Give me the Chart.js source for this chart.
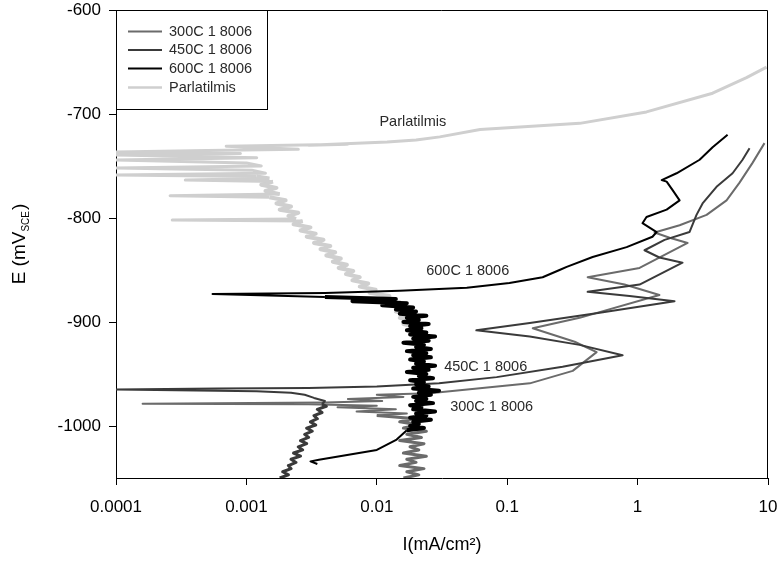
<!DOCTYPE html>
<html>
<head>
<meta charset="utf-8">
<title>Polarization curves</title>
<script src="https://cdn.jsdelivr.net/npm/chart.js@4.4.1/dist/chart.umd.min.js"></script>
<style>
  html, body { margin: 0; padding: 0; background: #fff; }
</style>
</head>
<body>
<canvas id="tafel" width="779" height="562"></canvas>
<script>
  // Potentiodynamic curves: I (mA/cm2, log axis) against E (mV vs SCE)
  const xTicks = [0.0001, 0.001, 0.01, 0.1, 1, 10];
  const yTicks = [-1000, -900, -800, -700, -600];

  const seriesNames = ['300C 1 8006', '450C 1 8006', '600C 1 8006', 'Parlatilmis'];
  const seriesColors = ['#6b6b6b', '#3a3a3a', '#000000', '#cfcfcf'];

  // each point is [I, E]
  const pts300 = [
    [0.016, -1050], [0.021, -1047], [0.017, -1044], [0.023, -1041], [0.015, -1038],
    [0.020, -1035], [0.017, -1032], [0.024, -1029], [0.016, -1026], [0.021, -1023],
    [0.018, -1020], [0.023, -1017], [0.015, -1014], [0.022, -1011], [0.017, -1008],
    [0.024, -1005], [0.016, -1002], [0.021, -999], [0.015, -996], [0.020, -993],
    [0.010, -990], [0.017, -988], [0.007, -986], [0.014, -984], [0.005, -982],
    [0.010, -980.5], [0.003, -979], [0.00016, -978.5], [0.004, -977.5], [0.011, -976],
    [0.006, -974], [0.016, -972], [0.010, -970], [0.0255, -968.5],
    [0.149, -959], [0.318, -947], [0.485, -929], [0.329, -919], [0.157, -906],
    [0.359, -896], [1.47, -874], [0.794, -864], [0.414, -857], [1.035, -848],
    [2.42, -824], [1.76, -819], [1.35, -814], [2.10, -807], [3.38, -797],
    [4.81, -783], [6.05, -766], [7.61, -747], [9.40, -728]
  ];

  const pts450 = [
    [0.0018, -1050], [0.0021, -1047], [0.0019, -1044], [0.0022, -1041], [0.0021, -1038],
    [0.0024, -1035], [0.0022, -1032], [0.0026, -1029], [0.0023, -1026], [0.0027, -1023],
    [0.0025, -1020], [0.0029, -1017], [0.0026, -1014], [0.0030, -1011], [0.0028, -1008],
    [0.0032, -1005], [0.0029, -1002], [0.0034, -999], [0.0031, -996], [0.0035, -993],
    [0.0033, -990], [0.0038, -987], [0.0035, -984], [0.0041, -981], [0.0038, -979],
    [0.0040, -976], [0.0033, -973], [0.0028, -970], [0.0022, -968], [0.0012, -966.5],
    [0.0001, -965], [0.0006, -964], [0.0030, -963.5], [0.010, -962], [0.030, -959],
    [0.083, -953], [0.266, -943], [0.767, -932], [0.359, -922], [0.149, -914],
    [0.058, -908], [0.149, -901], [0.512, -891], [1.92, -880], [0.868, -875],
    [0.414, -871], [1.035, -864], [2.21, -843], [1.47, -838], [1.13, -831],
    [1.61, -821], [2.50, -813.5], [2.83, -797], [3.15, -786], [4.03, -770],
    [5.35, -757], [6.38, -744], [7.22, -733]
  ];

  const pts600 = [
    [0.0035, -1036.5], [0.0031, -1034], [0.0036, -1032.5], [0.0100, -1023], [0.0142, -1013],
    [0.017, -1004], [0.023, -1002], [0.018, -1000], [0.021, -998], [0.019, -996],
    [0.026, -994], [0.018, -992], [0.024, -990], [0.020, -988], [0.028, -986],
    [0.019, -984], [0.022, -982], [0.018, -980], [0.027, -978], [0.020, -976],
    [0.024, -974], [0.019, -972], [0.026, -970], [0.021, -968], [0.030, -966],
    [0.019, -964], [0.025, -962], [0.020, -960], [0.023, -958], [0.018, -956],
    [0.027, -954], [0.021, -952], [0.024, -950], [0.017, -948], [0.025, -946],
    [0.019, -944], [0.028, -942], [0.020, -940], [0.023, -938], [0.018, -936],
    [0.026, -934], [0.019, -932], [0.024, -930], [0.017, -928], [0.026, -926],
    [0.020, -924], [0.023, -922], [0.016, -920], [0.025, -918], [0.019, -916],
    [0.028, -914], [0.018, -912], [0.024, -910], [0.017, -908], [0.022, -906],
    [0.018, -904], [0.025, -902], [0.016, -900], [0.021, -898], [0.017, -896],
    [0.024, -894], [0.015, -892], [0.020, -890], [0.014, -888], [0.019, -886],
    [0.011, -884], [0.017, -882], [0.0065, -880], [0.014, -878], [0.004, -876],
    [0.0015, -874.5], [0.00055, -873], [0.004, -872], [0.015, -870],
    [0.049, -867], [0.104, -862.5], [0.187, -857], [0.252, -850], [0.286, -847],
    [0.452, -837.5], [0.824, -828], [1.30, -818], [1.40, -813.5], [1.09, -805],
    [1.17, -799], [1.67, -792], [2.10, -783], [1.85, -773], [1.67, -765],
    [1.53, -763.5], [1.99, -757], [2.99, -744], [3.76, -732], [4.90, -720]
  ];

  const ptsPol = [
    [0.020, -905], [0.016, -902], [0.019, -899], [0.015, -896], [0.018, -893],
    [0.014, -890], [0.017, -887], [0.013, -884], [0.015, -881], [0.011, -878],
    [0.0125, -875], [0.0088, -872], [0.0098, -869], [0.0074, -866], [0.0086, -863],
    [0.0065, -860], [0.0074, -857], [0.0058, -854], [0.0066, -851], [0.0051, -848],
    [0.0059, -845], [0.0046, -842], [0.0053, -839], [0.0041, -836], [0.0048, -833],
    [0.0037, -830], [0.0044, -827], [0.0033, -824], [0.0039, -821], [0.0029, -818],
    [0.0034, -815], [0.0026, -812], [0.0031, -809], [0.0023, -806], [0.0027, -803],
    [0.00027, -802], [0.0024, -801], [0.0021, -798], [0.0025, -795], [0.0018, -792],
    [0.0022, -789], [0.0017, -786], [0.0020, -783], [0.0015, -780], [0.00026, -778.5],
    [0.0018, -777], [0.0014, -774], [0.0017, -771], [0.0013, -768], [0.0016, -765],
    [0.00034, -763.5], [0.0015, -762], [0.0012, -760], [0.0001, -758.7], [0.0014, -757],
    [0.0011, -754], [0.0001, -752], [0.0013, -750], [0.0010, -747], [0.0001, -744.2],
    [0.0012, -742], [0.0001, -739.4], [0.0009, -738], [0.0001, -736.5], [0.0005, -735],
    [0.0025, -734], [0.0007, -731], [0.006, -729], [0.003, -730], [0.012, -727],
    [0.020, -725], [0.0304, -722], [0.062, -715], [0.36, -709], [1.17, -698],
    [3.76, -680], [6.84, -665], [9.75, -655]
  ];

  // curve captions placed in data space: [text, I, E]
  const captions = [
    ['Parlatilmis', 0.0189, -707.7],
    ['600C 1 8006', 0.0498, -851],
    ['450C 1 8006', 0.0684, -943.3],
    ['300C 1 8006', 0.076, -981.7]
  ];

  const FONT = "'Liberation Sans', Arial, sans-serif";

  // noisy stretches are stroked wider so they read as a band
  const bandFrom = [-1050, -1050, -1004, -905];
  const bandTo = [-990, -979, -876, -760];
  const bandWidth = [3, 3, 4, 4];

  function toPoints(pts) {
    return pts.map(function(p) { return { x: p[0], y: p[1] }; });
  }

  const seriesData = [pts300, pts450, pts600, ptsPol].map(toPoints);
  const seriesWidth = [2, 2, 2, 3];
  const drawOrder = [2, 1, 0, 3];

  const datasets = seriesNames.map(function(name, k) {
    return {
      label: name,
      data: seriesData[k],
      showLine: true,
      borderColor: seriesColors[k],
      backgroundColor: seriesColors[k],
      borderWidth: seriesWidth[k],
      borderJoinStyle: 'round',
      pointRadius: 0,
      tension: 0,
      order: drawOrder[k],
      segment: {
        borderWidth: function(c) {
          const a = c.p0.parsed, b = c.p1.parsed;
          const inBand = a.y >= bandFrom[k] && a.y <= bandTo[k] && b.y >= bandFrom[k] && b.y <= bandTo[k];
          return inBand && a.x > 0.001 && b.x > 0.001 ? bandWidth[k] : seriesWidth[k];
        }
      }
    };
  });

  // frame, boxed legend, captions and axis titles
  const decor = {
    id: 'decor',
    afterDatasetsDraw(chart) {
      const ctx = chart.ctx;
      const a = chart.chartArea;
      const xs = chart.scales.x, ys = chart.scales.y;
      ctx.save();

      ctx.strokeStyle = '#000';
      ctx.lineWidth = 1;
      ctx.beginPath();
      ctx.moveTo(a.left, a.top + 0.5);
      ctx.lineTo(a.right - 0.5, a.top + 0.5);
      ctx.lineTo(a.right - 0.5, a.bottom);
      ctx.stroke();

      // legend box
      const lx = a.left + 0.5, ly = a.top + 0.5, lw = 151, lh = 99;
      ctx.fillStyle = '#fff';
      ctx.fillRect(lx, ly, lw, lh);
      ctx.strokeRect(lx, ly, lw, lh);
      ctx.font = '14.5px ' + FONT;
      ctx.textBaseline = 'middle';
      ctx.textAlign = 'left';
      const rows = [21.5, 40, 58.5, 77.5];
      seriesNames.forEach(function(name, k) {
        const ry = a.top + rows[k];
        ctx.strokeStyle = seriesColors[k];
        ctx.lineWidth = seriesWidth[k] === 3 ? 2.5 : 2;
        ctx.beginPath();
        ctx.moveTo(a.left + 12, ry);
        ctx.lineTo(a.left + 46, ry);
        ctx.stroke();
        ctx.fillStyle = '#2a2a2a';
        ctx.fillText(name, a.left + 53, ry);
      });

      // captions next to the curves
      ctx.textAlign = 'center';
      ctx.fillStyle = '#2a2a2a';
      captions.forEach(function(c) {
        ctx.fillText(c[0], xs.getPixelForValue(c[1]), ys.getPixelForValue(c[2]));
      });

      // x title
      ctx.fillStyle = '#000';
      ctx.font = '18px ' + FONT;
      ctx.fillText('I(mA/cm\u00B2)', (a.left + a.right) / 2, 545);

      // y title with subscript
      ctx.translate(20, (a.top + a.bottom) / 2);
      ctx.rotate(-Math.PI / 2);
      const big = '19px ' + FONT, small = '10px ' + FONT;
      ctx.font = big;
      const w1 = ctx.measureText('E (mV').width;
      const w3 = ctx.measureText(')').width;
      ctx.font = small;
      const w2 = ctx.measureText('SCE').width + 1;
      let px = -(w1 + w2 + w3) / 2;
      ctx.textAlign = 'left';
      ctx.font = big;
      ctx.fillText('E (mV', px, 0);
      px += w1;
      ctx.font = small;
      ctx.fillText('SCE', px, 6);
      px += w2;
      ctx.font = big;
      ctx.fillText(')', px, 0);

      ctx.restore();
    }
  };

  new Chart(document.getElementById('tafel'), {
    type: 'scatter',
    data: { datasets: datasets },
    plugins: [decor],
    options: {
      responsive: false,
      animation: false,
      devicePixelRatio: 1,
      layout: { padding: { top: 10, right: 11, left: 0, bottom: 0 } },
      plugins: {
        legend: { display: false },
        tooltip: { enabled: false }
      },
      scales: {
        x: {
          type: 'logarithmic',
          min: 0.0001,
          max: 10,
          afterBuildTicks: function(s) { s.ticks = xTicks.map(function(v) { return { value: v }; }); },
          afterFit: function(s) { s.height = 84; s.paddingLeft = 0; s.paddingRight = 0; },
          ticks: {
            color: '#000',
            font: { family: FONT, size: 17 },
            padding: 12,
            autoSkip: false,
            maxRotation: 0,
            callback: function(v) { return String(v); }
          },
          grid: { drawOnChartArea: false, tickLength: 7, color: '#000' },
          border: { color: '#000', width: 1 }
        },
        y: {
          min: -1050,
          max: -600,
          afterBuildTicks: function(s) { s.ticks = yTicks.map(function(v) { return { value: v }; }); },
          afterFit: function(s) { s.width = 116; s.paddingTop = 0; s.paddingBottom = 0; },
          ticks: {
            color: '#000',
            font: { family: FONT, size: 17 },
            padding: 8,
            callback: function(v) { return String(v); }
          },
          grid: { drawOnChartArea: false, tickLength: 7, color: '#000' },
          border: { color: '#000', width: 1 }
        }
      }
    }
  });
</script>
</body>
</html>
